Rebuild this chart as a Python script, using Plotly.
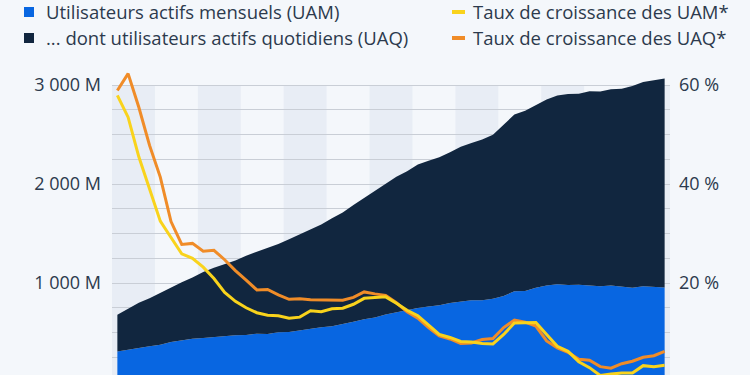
import plotly.graph_objects as go

# ---------------- data ----------------
years = list(range(2011, 2024))
quarters = [f"T{q} {y}" for y in years for q in (1, 2, 3, 4)]

# Utilisateurs actifs mensuels (millions)
uam = [680, 739, 800, 845, 901, 955, 1007, 1056, 1110, 1155, 1189, 1228,
       1276, 1317, 1350, 1393, 1441, 1490, 1545, 1591, 1654, 1712, 1788, 1860,
       1936, 2006, 2072, 2129, 2196, 2234, 2271, 2320, 2375, 2414, 2449, 2498,
       2603, 2701, 2740, 2797, 2853, 2895, 2910, 2912, 2936, 2934, 2958, 2963,
       2989, 3030, 3049, 3065]
# ... dont utilisateurs actifs quotidiens (millions)
uaq = [372, 417, 457, 483, 526, 552, 584, 618, 665, 699, 728, 757,
       802, 829, 864, 890, 936, 968, 1007, 1038, 1090, 1128, 1179, 1227,
       1284, 1325, 1368, 1401, 1449, 1471, 1495, 1523, 1562, 1587, 1623, 1657,
       1734, 1785, 1820, 1845, 1878, 1908, 1930, 1929, 1960, 1968, 1984, 2000,
       2037, 2064, 2085, 2110]
# Taux de croissance (%)
croissance_uam = [57.9, 53.5, 45.5, 39.0, 32.5, 29.2, 25.9, 25.0, 23.2, 20.9, 18.1, 16.3,
                  15.0, 14.0, 13.5, 13.4, 12.9, 13.1, 14.4, 14.2, 14.8, 14.9, 15.7, 16.9,
                  17.0, 17.2, 15.9, 14.5, 13.4, 11.4, 9.6, 9.0, 8.2, 8.1, 7.8, 7.7,
                  9.6, 11.9, 11.9, 12.0, 9.6, 7.2, 6.2, 4.1, 2.9, 1.3, 1.6, 1.8,
                  1.8, 3.3, 3.1, 3.4]
croissance_uaq = [58.9, 62.3, 55.5, 47.8, 41.4, 32.4, 27.8, 28.0, 26.4, 26.6, 24.7, 22.5,
                  20.6, 18.6, 18.7, 17.6, 16.7, 16.8, 16.6, 16.6, 16.5, 16.5, 17.1, 18.2,
                  17.8, 17.5, 16.0, 14.2, 12.9, 11.0, 9.3, 8.7, 7.8, 7.9, 8.6, 8.8,
                  11.0, 12.5, 12.1, 11.3, 8.3, 6.9, 6.0, 4.6, 4.4, 3.1, 2.8, 3.7,
                  4.2, 5.0, 5.3, 6.2]

legend_labels = ["Utilisateurs actifs mensuels (UAM)",
                 "... dont utilisateurs actifs quotidiens (UAQ)",
                 "Taux de croissance des UAM*",
                 "Taux de croissance des UAQ*"]

# ---------------- style ----------------
BLUE = "#0866e1"
NAVY = "#11263f"
YELLOW = "#f9d31c"
ORANGE = "#f08c28"
BG = "#f4f7fb"
BAND = "#e8edf5"
GRID = "#c9ced6"
TXT = "#2c3a4d"
FONT = "Open Sans"

W, H = 750, 375
L, R, T, B = 112, 80, 70, 0
PW, PH = W - L - R, H - T - B
Y1 = [70.7, 3151.5]
Y2 = [1.414, 63.03]

fig = go.Figure()

blue_part = [m - d for m, d in zip(uam, uaq)]
fig.add_trace(go.Scatter(x=quarters, y=blue_part, stackgroup="one", mode="lines",
                         line=dict(width=0, color=BLUE), fillcolor=BLUE,
                         name=legend_labels[0], showlegend=False))
fig.add_trace(go.Scatter(x=quarters, y=uaq, stackgroup="one", mode="lines",
                         line=dict(width=0, color=NAVY), fillcolor=NAVY,
                         name=legend_labels[1], showlegend=False))
fig.add_trace(go.Scatter(x=quarters, y=croissance_uaq, yaxis="y2", mode="lines",
                         line=dict(width=3, color=ORANGE),
                         name=legend_labels[3], showlegend=False))
fig.add_trace(go.Scatter(x=quarters, y=croissance_uam, yaxis="y2", mode="lines",
                         line=dict(width=3, color=YELLOW),
                         name=legend_labels[2], showlegend=False))

# alternating year bands
shapes = []
for k in range(0, len(years), 2):
    shapes.append(dict(type="rect", xref="x", yref="y", layer="below",
                       x0=4 * k - 0.5, x1=4 * k + 3.5, y0=Y1[0], y1=3000,
                       fillcolor=BAND, line=dict(width=0)))

# legend (manual)
def px_x(px):
    return (px - L) / PW

def px_y(py):
    return (H - B - py) / PH

legend_items = [
    (legend_labels[0], BLUE, "square", 24, 12, 44),
    (legend_labels[1], NAVY, "square", 24, 38, 44),
    (legend_labels[2], YELLOW, "line", 452, 12, 471),
    (legend_labels[3], ORANGE, "line", 452, 38, 471),
]
annotations = []
for text, col, kind, x0, yc, tx in legend_items:
    if kind == "square":
        shapes.append(dict(type="rect", xref="paper", yref="paper",
                           x0=px_x(x0), x1=px_x(x0 + 10), y0=px_y(yc + 5), y1=px_y(yc - 5),
                           fillcolor=col, line=dict(width=0)))
    else:
        shapes.append(dict(type="rect", xref="paper", yref="paper",
                           x0=px_x(x0), x1=px_x(x0 + 13), y0=px_y(yc + 2), y1=px_y(yc - 2),
                           fillcolor=col, line=dict(width=0)))
    annotations.append(dict(text=text, xref="paper", yref="paper", x=px_x(tx), y=px_y(yc),
                            xanchor="left", yanchor="middle", showarrow=False,
                            font=dict(family=FONT, size=18.5, color=TXT)))

fig.update_layout(
    width=W, height=H,
    margin=dict(l=L, r=R, t=T, b=B, pad=0),
    paper_bgcolor=BG, plot_bgcolor=BG,
    separators=", ",
    font=dict(family=FONT, color=TXT, size=18),
    showlegend=False,
    shapes=shapes,
    annotations=annotations,
    xaxis=dict(type="category", range=[-0.5, len(quarters) - 0.5],
               showticklabels=False, showgrid=False, zeroline=False,
               showline=False, ticks="", automargin=False, fixedrange=True),
    yaxis=dict(range=Y1, dtick=1000, tick0=0, tickformat=",d", ticksuffix=" M",
               showgrid=True, gridcolor=GRID, gridwidth=1, zeroline=False,
               minor=dict(dtick=250, tick0=0, showgrid=True, gridcolor=GRID, gridwidth=1),
               ticks="", ticklabelstandoff=10, automargin=False,
               tickfont=dict(family=FONT, size=18, color=TXT)),
    yaxis2=dict(range=Y2, overlaying="y", side="right", dtick=20, tick0=0,
                ticksuffix=" %", showgrid=False, zeroline=False, ticks="",
                ticklabelstandoff=8, automargin=False,
                tickfont=dict(family=FONT, size=18, color=TXT)),
)

fig.write_html("out.html", config={"displayModeBar": False},
               post_script="document.body.style.margin='0px';")
